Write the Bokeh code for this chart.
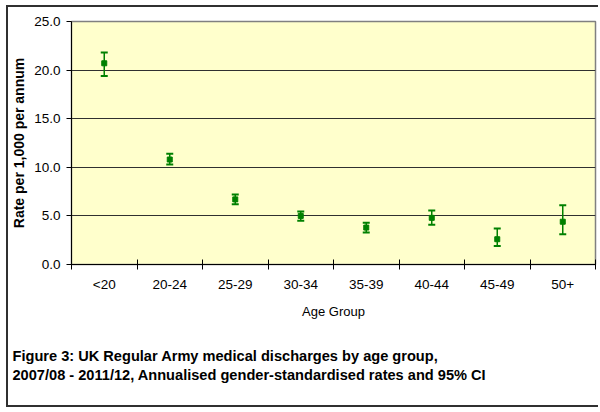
from bokeh.plotting import figure
from bokeh.models import (FixedTicker, Range1d, Whisker, ColumnDataSource,
                          NumeralTickFormatter, TeeHead, Title)
from bokeh.embed import file_html
from bokeh.resources import INLINE

# ---- data ----
age_groups = ["<20", "20-24", "25-29", "30-34", "35-39", "40-44", "45-49", "50+"]
rates = [20.7, 10.8, 6.7, 5.0, 3.8, 4.8, 2.6, 4.4]
lower = [19.4, 10.3, 6.2, 4.5, 3.3, 4.1, 1.9, 3.1]
upper = [21.8, 11.4, 7.2, 5.45, 4.3, 5.55, 3.7, 6.1]
y_ticks = [0, 5, 10, 15, 20, 25]
caption_lines = [
    "Figure 3: UK Regular Army medical discharges by age group,",
    "2007/08 - 2011/12, Annualised gender-standardised rates and 95% CI",
]

xs = [i + 0.5 for i in range(len(age_groups))]
src = ColumnDataSource(dict(x=xs, rate=rates, lower=lower, upper=upper))

GREEN = "#008000"
FONT = "Liberation Sans"

p = figure(width=592, height=402, output_backend="svg", toolbar_location=None,
           x_range=Range1d(0, len(age_groups)), y_range=Range1d(0, 25),
           min_border_left=63, min_border_top=14, min_border_right=5,
           min_border_bottom=145)
p.styles = {"border-left": "2px solid #303030", "border-top": "2px solid #303030",
            "border-bottom": "2px solid #303030", "margin": "5px 0 0 6px"}
p.background_fill_color = "#FFFFCC"
p.border_fill_color = "white"
p.outline_line_color = "#808080"
p.outline_line_width = 1.5

# grid
p.xgrid.visible = False
p.ygrid.ticker = FixedTicker(ticks=[t for t in y_ticks if 0 < t < 25])
p.ygrid.grid_line_color = "#303030"
p.ygrid.grid_line_width = 1

# y axis
p.yaxis.ticker = FixedTicker(ticks=y_ticks)
p.yaxis.formatter = NumeralTickFormatter(format="0.0")
p.yaxis.major_tick_in = 0
p.yaxis.major_tick_out = 5
p.yaxis.minor_tick_line_color = None
p.yaxis.axis_line_color = "black"
p.yaxis.major_tick_line_color = "black"
p.yaxis.major_label_text_font = FONT
p.yaxis.major_label_text_font_size = "13.5px"
p.yaxis.major_label_text_color = "black"
p.yaxis.major_label_standoff = 6
p.yaxis.axis_label = "Rate per 1,000 per annum"
p.yaxis.axis_label_text_font = FONT
p.yaxis.axis_label_text_font_size = "14px"
p.yaxis.axis_label_text_font_style = "bold"
p.yaxis.axis_label_text_color = "black"
p.yaxis.axis_label_standoff = 4

# x axis: labels at centres, ticks at boundaries
p.xaxis.ticker = FixedTicker(ticks=xs, minor_ticks=list(range(len(age_groups) + 1)))
p.xaxis.major_label_overrides = {x: g for x, g in zip(xs, age_groups)}
p.xaxis.major_tick_in = 0
p.xaxis.major_tick_out = 0
p.xaxis.minor_tick_in = 5
p.xaxis.minor_tick_out = 5
p.xaxis.minor_tick_line_color = "black"
p.xaxis.axis_line_color = "black"
p.xaxis.major_label_text_font = FONT
p.xaxis.major_label_text_font_size = "13.5px"
p.xaxis.major_label_text_color = "black"
p.xaxis.major_label_standoff = 7
p.xaxis.axis_label = "Age Group"
p.xaxis.axis_label_text_font = FONT
p.xaxis.axis_label_text_font_size = "13px"
p.xaxis.axis_label_text_font_style = "normal"
p.xaxis.axis_label_text_color = "black"
p.xaxis.axis_label_standoff = 9

# error bars
w = Whisker(source=src, base="x", upper="upper", lower="lower",
            line_color=GREEN, line_width=1.5,
            upper_head=TeeHead(size=7, line_color=GREEN, line_width=2),
            lower_head=TeeHead(size=7, line_color=GREEN, line_width=2))
p.add_layout(w)

# points
p.scatter("x", "rate", source=src, marker="square", size=5,
          fill_color=GREEN, line_color=GREEN)

# caption
cap = Title(text="\n".join(caption_lines), align="left", offset=-59, standoff=48,
            text_font=FONT, text_font_size="14.6px", text_font_style="bold",
            text_color="black", text_line_height=1.23)
p.add_layout(cap, "below")

open("out.html", "w").write(file_html(p, INLINE))
